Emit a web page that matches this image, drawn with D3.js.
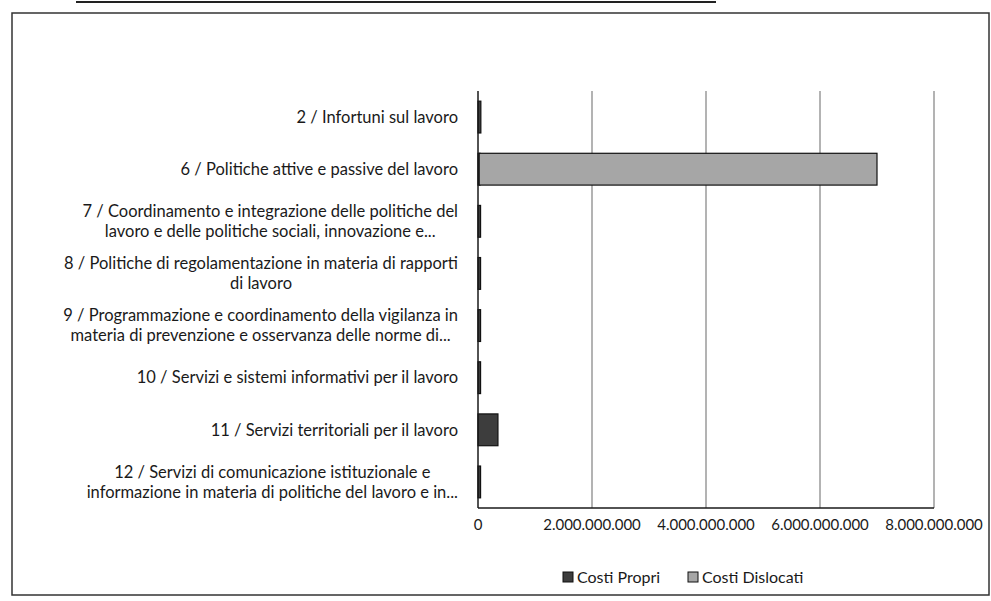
<!DOCTYPE html>
<html>
<head>
<meta charset="utf-8">
<script src="https://cdn.jsdelivr.net/npm/d3@7"></script>
<style>
  body { margin: 0; background: #fff; }
  svg text { font-family: Lato, "Open Sans", sans-serif; fill: #1a1a1a; }
</style>
</head>
<body>
<svg id="chart"></svg>
<script>
// categories (each label split into its display lines)
var categories = [
    ["2 / Infortuni sul lavoro"],
    ["6 / Politiche attive e passive del lavoro"],
    ["7 / Coordinamento e integrazione delle politiche del", "lavoro e delle politiche sociali, innovazione e..."],
    ["8 / Politiche di regolamentazione in materia di rapporti", "di lavoro"],
    ["9 / Programmazione e coordinamento della vigilanza in", "materia di prevenzione e osservanza delle norme di..."],
    ["10 / Servizi e sistemi informativi per il lavoro"],
    ["11 / Servizi territoriali per il lavoro"],
    ["12 / Servizi di comunicazione istituzionale e", "informazione in materia di politiche del lavoro e in..."]
];
var costiPropri = [50e6, 20e6, 45e6, 45e6, 45e6, 45e6, 350e6, 45e6];
var costiDislocati = [0, 6.98e9, 0, 0, 0, 0, 0, 0];
var tickValues = [0, 2e9, 4e9, 6e9, 8e9];
var seriesNames = ["Costi Propri", "Costi Dislocati"];
var seriesColors = ["#3d3d3d", "#a6a6a6"];

var width = 991, height = 601;
var plot = { left: 478, right: 934, top: 91, bottom: 508 };

var svg = d3.select("#chart")
    .attr("width", width)
    .attr("height", height);

// underline of the (cropped) heading above the chart
svg.append("line")
    .attr("x1", 76).attr("x2", 716)
    .attr("y1", 2).attr("y2", 2)
    .attr("stroke", "#222")
    .attr("stroke-width", 2);

// outer frame
svg.append("rect")
    .attr("x", 12).attr("y", 13)
    .attr("width", 977).attr("height", 582)
    .attr("fill", "#fff")
    .attr("stroke", "#333")
    .attr("stroke-width", 1.5);

var x = d3.scaleLinear().domain([0, 8e9]).range([plot.left, plot.right]);
var y = d3.scaleBand()
    .domain(d3.range(categories.length))
    .range([plot.top, plot.bottom])
    .paddingInner(0.39)
    .paddingOuter(0.195);

// vertical gridlines
svg.append("g")
    .selectAll("line")
    .data(tickValues.slice(1))
    .enter()
    .append("line")
    .attr("x1", d => x(d)).attr("x2", d => x(d))
    .attr("y1", plot.top).attr("y2", plot.bottom)
    .attr("stroke", "#8a8a8a")
    .attr("stroke-width", 1.3);

// stacked bars
var rows = categories.map((c, i) => ({ i: i, propri: costiPropri[i], dislocati: costiDislocati[i] }));
var stack = d3.stack().keys(["propri", "dislocati"])(rows);

svg.append("g")
    .selectAll("g")
    .data(stack)
    .enter()
    .append("g")
    .attr("fill", (d, k) => seriesColors[k])
    .selectAll("rect")
    .data(d => d.filter(s => s[1] - s[0] > 0))
    .enter()
    .append("rect")
    .attr("x", d => x(d[0]))
    .attr("y", d => y(d.data.i))
    .attr("width", d => Math.max(2, x(d[1]) - x(d[0])))
    .attr("height", y.bandwidth())
    .attr("stroke", "#111")
    .attr("stroke-width", 1.2);

// axes lines
svg.append("line")
    .attr("x1", plot.left).attr("x2", plot.right)
    .attr("y1", plot.bottom).attr("y2", plot.bottom)
    .attr("stroke", "#1a1a1a").attr("stroke-width", 1.5);
svg.append("line")
    .attr("x1", plot.left).attr("x2", plot.left)
    .attr("y1", plot.top).attr("y2", plot.bottom)
    .attr("stroke", "#1a1a1a").attr("stroke-width", 1.5);

// x tick labels
var fmt = d => d3.format(",")(d).replace(/,/g, ".");
svg.append("g")
    .selectAll("text")
    .data(tickValues)
    .enter()
    .append("text")
    .attr("x", d => x(d))
    .attr("y", 530)
    .attr("text-anchor", "middle")
    .style("font-size", "15px")
    .text(fmt);

// category labels: multi-line labels are centred on their widest line
var labelRight = 458, lineH = 20;
categories.forEach(function (lines, i) {
    var g = svg.append("g");
    var cy = y(i) + y.bandwidth() / 2;
    var texts = lines.map(function (t, j) {
        return g.append("text")
            .attr("y", cy + (j - (lines.length - 1) / 2) * lineH)
            .attr("dy", "0.35em")
            .style("font-size", "16.5px")
            .text(t);
    });
    var w = d3.max(texts, t => t.node().getComputedTextLength());
    texts.forEach(t => t.attr("x", labelRight - w / 2).attr("text-anchor", "middle"));
});

// legend
var legend = svg.append("g");
var lx = [563, 688];
seriesNames.forEach(function (name, k) {
    legend.append("rect")
        .attr("x", lx[k]).attr("y", 572)
        .attr("width", 10).attr("height", 10)
        .attr("fill", seriesColors[k])
        .attr("stroke", "#111").attr("stroke-width", 1);
    legend.append("text")
        .attr("x", lx[k] + 14).attr("y", 577)
        .attr("dy", "0.35em")
        .style("font-size", "16px")
        .text(name);
});
</script>
</body>
</html>
